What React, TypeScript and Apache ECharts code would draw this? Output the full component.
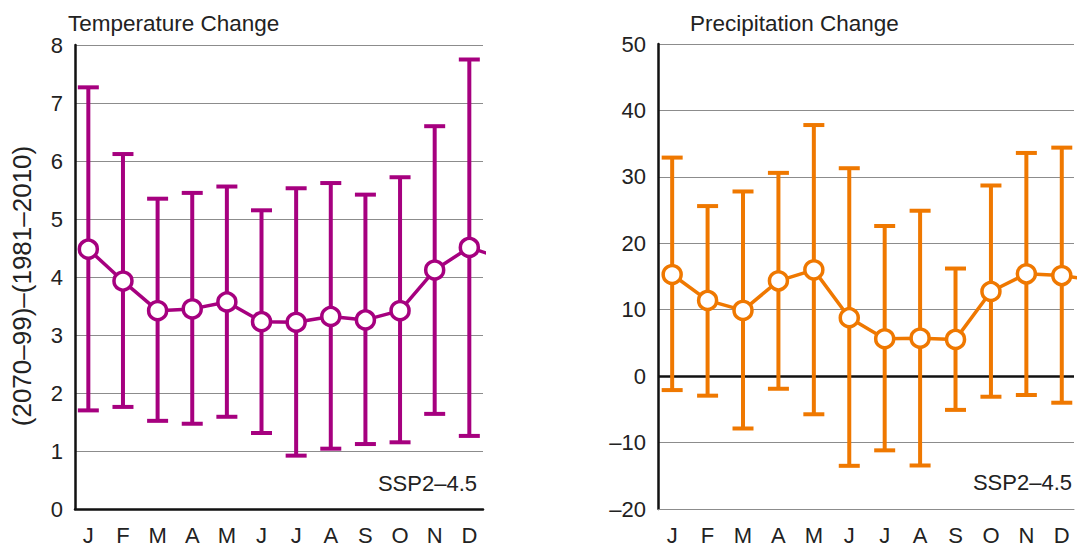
import React, { useEffect, useRef } from "react";
import * as echarts from "echarts";

const MONTHS = ["J", "F", "M", "A", "M", "J", "J", "A", "S", "O", "N", "D"];

const TEMP_MEAN = [4.48, 3.93, 3.42, 3.45, 3.57, 3.23, 3.22, 3.32, 3.26, 3.42, 4.12, 4.51];
const TEMP_HIGH = [7.27, 6.12, 5.35, 5.45, 5.56, 5.15, 5.53, 5.62, 5.42, 5.72, 6.6, 7.75];
const TEMP_LOW = [1.7, 1.76, 1.52, 1.47, 1.59, 1.31, 0.92, 1.04, 1.12, 1.15, 1.64, 1.26];
const TEMP_NEXT_JAN = 4.31;

const PREC_MEAN = [15.3, 11.4, 9.9, 14.35, 16.0, 8.8, 5.63, 5.72, 5.53, 12.75, 15.4, 15.14];
const PREC_HIGH = [32.9, 25.6, 27.8, 30.6, 37.8, 31.3, 22.6, 24.9, 16.2, 28.7, 33.6, 34.4];
const PREC_LOW = [-2.1, -2.94, -7.88, -1.9, -5.74, -13.5, -11.17, -13.45, -5.08, -3.1, -2.84, -4.0];
const PREC_NEXT_JAN = 14.4;

const TEMP_TICKS = { min: 0, max: 8, interval: 1 };
const PREC_TICKS = { min: -20, max: 50, interval: 10 };

const MAGENTA = "#a6007f";
const ORANGE = "#ef7800";
const TEXT = "#222";
const FONT = "Liberation Sans, Arial, sans-serif";

function errorRender(color: string) {
  return (params: any, api: any) => {
    const x = api.value(0);
    const lo = api.value(1);
    const hi = api.value(2);
    const pt = api.coord([x, hi]);
    const pb = api.coord([x, lo]);
    const hw = 10.5;
    const st = { stroke: color, lineWidth: 4 };
    return {
      type: "group",
      children: [
        { type: "line", shape: { x1: pt[0], y1: pt[1], x2: pb[0], y2: pb[1] }, style: st },
        { type: "line", shape: { x1: pt[0] - hw, y1: pt[1], x2: pt[0] + hw, y2: pt[1] }, style: st },
        { type: "line", shape: { x1: pb[0] - hw, y1: pb[1], x2: pb[0] + hw, y2: pb[1] }, style: st },
      ],
    };
  };
}

function monthLabel(v: number) {
  const r = Math.round(v);
  if (Math.abs(v - r) > 1e-6 || r < 0 || r > 11) return "";
  return MONTHS[r];
}

export default function App() {
  const ref = useRef<HTMLDivElement>(null);
  useEffect(() => {
    if (!ref.current) return;
    const chart = echarts.init(ref.current, null, { renderer: "svg" });

    const xAxisBase = (gridIndex: number, min: number, max: number, lineColor: string, lineWidth: number) => ({
      type: "value",
      gridIndex,
      min,
      max,
      minInterval: 1,
      maxInterval: 1,
      splitLine: { show: false },
      axisTick: { show: false },
      axisLine: { show: true, onZero: false, lineStyle: { color: lineColor, width: lineWidth } },
      axisLabel: {
        formatter: monthLabel,
        color: TEXT,
        fontSize: 22,
        fontFamily: FONT,
        margin: 15,
        showMinLabel: true,
        showMaxLabel: true,
      },
      z: 5,
    });

    const yAxisBase = (gridIndex: number, t: any) => ({
      type: "value",
      gridIndex,
      min: t.min,
      max: t.max,
      interval: t.interval,
      axisTick: { show: false },
      axisLine: { show: true, onZero: false, lineStyle: { color: "#111", width: 2.5 } },
      splitLine: { show: true, lineStyle: { color: "#8c8c8c", width: 1 } },
      axisLabel: {
        color: TEXT,
        fontSize: 22,
        fontFamily: FONT,
        margin: 12,
        formatter: (v: number) => String(v).replace("-", "–"),
      },
    });

    const tempLine = TEMP_MEAN.map((v, i) => [i, v]).concat([[12, TEMP_NEXT_JAN]]);
    const precLine = PREC_MEAN.map((v, i) => [i, v]).concat([[12, PREC_NEXT_JAN]]);
    const tempErr = TEMP_MEAN.map((_, i) => [i, TEMP_LOW[i], TEMP_HIGH[i]]);
    const precErr = PREC_MEAN.map((_, i) => [i, PREC_LOW[i], PREC_HIGH[i]]);

    const option: any = {
      animation: false,
      backgroundColor: "#fff",
      textStyle: { fontFamily: FONT },
      title: [
        { text: "Temperature Change", left: 63, top: 7, textStyle: { color: TEXT, fontSize: 22.5, fontWeight: "normal", fontFamily: FONT } },
        { text: "Precipitation Change", left: 685, top: 7, textStyle: { color: TEXT, fontSize: 22.5, fontWeight: "normal", fontFamily: FONT } },
      ],
      grid: [
        { left: 75, top: 45, width: 408, height: 465 },
        { left: 658, top: 44, width: 420, height: 467 },
      ],
      xAxis: [
        xAxisBase(0, -0.385, 11.395, "#111", 2.5),
        xAxisBase(1, -0.4, 11.345, "#8c8c8c", 1),
      ],
      yAxis: [yAxisBase(0, TEMP_TICKS), yAxisBase(1, PREC_TICKS)],
      series: [
        {
          type: "custom",
          xAxisIndex: 0,
          yAxisIndex: 0,
          renderItem: errorRender(MAGENTA),
          encode: { x: 0, y: [1, 2] },
          data: tempErr,
          z: 2,
        },
        {
          type: "line",
          xAxisIndex: 0,
          yAxisIndex: 0,
          data: tempLine,
          symbol: "circle",
          symbolSize: 18,
          showAllSymbol: true,
          lineStyle: { color: MAGENTA, width: 3.5 },
          itemStyle: { color: "#fff", borderColor: MAGENTA, borderWidth: 3.5 },
          clip: true,
          z: 3,
        },
        {
          type: "custom",
          xAxisIndex: 1,
          yAxisIndex: 1,
          renderItem: errorRender(ORANGE),
          encode: { x: 0, y: [1, 2] },
          data: precErr,
          z: 2,
          markLine: {
            silent: true,
            symbol: "none",
            label: { show: false },
            lineStyle: { color: "#111", width: 2.5, type: "solid" },
            data: [{ yAxis: 0 }],
            z: 1,
          },
        },
        {
          type: "line",
          xAxisIndex: 1,
          yAxisIndex: 1,
          data: precLine,
          symbol: "circle",
          symbolSize: 18,
          showAllSymbol: true,
          lineStyle: { color: ORANGE, width: 3.5 },
          itemStyle: { color: "#fff", borderColor: ORANGE, borderWidth: 3.5 },
          clip: true,
          z: 3,
        },
      ],
      graphic: [
        {
          type: "text",
          x: 22,
          y: 286,
          rotation: Math.PI / 2,
          style: {
            text: "(2070–99)–(1981–2010)",
            fill: TEXT,
            font: `26px ${FONT}`,
            textAlign: "center",
            textVerticalAlign: "middle",
          },
        },
        {
          type: "text",
          x: 477,
          y: 483,
          style: { text: "SSP2–4.5", fill: TEXT, font: `22px ${FONT}`, textAlign: "right", textVerticalAlign: "middle" },
          z: 10,
        },
        {
          type: "text",
          x: 1072,
          y: 482,
          style: { text: "SSP2–4.5", fill: TEXT, font: `22px ${FONT}`, textAlign: "right", textVerticalAlign: "middle" },
          z: 10,
        },
      ],
    };
    chart.setOption(option);
    return () => chart.dispose();
  }, []);
  return <div ref={ref} style={{ position: "absolute", left: 0, top: 0, width: 1077, height: 546 }} />;
}
